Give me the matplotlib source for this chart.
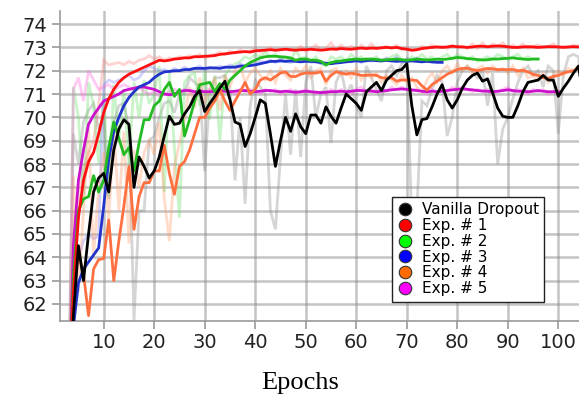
import numpy as np
import matplotlib
matplotlib.use("Agg")
import matplotlib.pyplot as plt
from matplotlib.lines import Line2D

START_EPOCH = 3

# ---- smoothed (thick) curves ----
vanilla = [57.0, 61.5, 64.5, 63.0, 65.0, 66.8, 67.4, 67.6, 66.8, 68.6,
           69.5, 69.9, 69.7, 67.0, 68.3, 67.9, 67.4, 67.7, 68.3, 69.2,
           70.05, 69.7, 69.75, 70.15, 70.45, 70.9, 71.15, 70.25, 70.6, 70.9,
           71.25, 71.55, 70.75, 69.8, 69.7, 68.75, 69.3, 70.0, 70.75, 70.6,
           69.3, 67.9, 69.0, 70.0, 69.4, 70.15, 69.6, 69.3, 70.1, 70.1,
           69.75, 70.45, 70.05, 69.75, 70.4, 71.0, 70.8, 70.6, 70.3, 71.1,
           71.3, 71.5, 71.15, 71.6, 71.8, 72.0, 72.05, 72.3, 70.5, 69.25,
           69.9, 69.95, 70.45, 71.0, 71.4, 70.75, 70.4, 70.75, 71.25, 71.6,
           71.8, 71.9, 71.55, 71.65, 71.05, 70.4, 70.05, 70.0, 70.0, 70.5,
           71.1, 71.5, 71.55, 71.6, 71.8, 71.6, 71.6, 70.9, 71.25, 71.55,
           71.9, 72.2, 70.8]
exp1 = [58.0, 62.5, 65.7, 67.3, 68.1, 68.5, 69.3, 70.2, 70.8, 71.2,
        71.5, 71.7, 71.85, 71.95, 72.05, 72.15, 72.25, 72.35, 72.45, 72.42,
        72.45, 72.5, 72.52, 72.55, 72.55, 72.6, 72.6, 72.62, 72.63, 72.65,
        72.7, 72.72, 72.75, 72.78, 72.8, 72.82, 72.8, 72.85, 72.87, 72.88,
        72.9, 72.88, 72.9, 72.92, 72.9, 72.88, 72.9, 72.9, 72.92, 72.9,
        72.88, 72.9, 72.93, 72.92, 72.95, 72.93, 72.92, 72.95, 72.97, 72.95,
        72.97, 72.96, 72.98, 73.0, 72.98, 73.0, 72.95, 72.92, 72.88, 72.9,
        72.95, 72.98, 73.0, 73.02, 73.0, 73.02, 73.05, 73.03, 73.02, 73.0,
        73.02, 73.05, 73.05, 73.03, 73.05, 73.06, 73.05, 73.03, 73.0, 73.0,
        73.02, 73.03, 73.02, 73.0, 73.02, 73.03, 73.03, 73.02, 73.0, 73.02,
        73.03, 73.02, 73.02]
exp2 = [57.0, 63.2, 66.0, 66.5, 66.6, 67.5, 66.8, 67.3, 68.7, 69.8,
        69.1, 68.4, 68.7, 67.7, 68.9, 69.9, 69.9, 70.5, 70.7, 71.2,
        71.5, 70.9, 71.2, 69.2, 69.9, 70.7, 71.4, 71.45, 71.5, 71.1,
        71.45, 71.2, 71.6, 71.8, 72.0, 72.2, 72.35, 72.45, 72.55, 72.6,
        72.62, 72.62, 72.6, 72.58, 72.55, 72.45, 72.5, 72.5, 72.45, 72.45,
        72.4, 72.25, 72.35, 72.4, 72.42, 72.45, 72.48, 72.5, 72.48, 72.5,
        72.5, 72.48, 72.45, 72.47, 72.48, 72.5, 72.47, 72.45, 72.47, 72.5,
        72.48, 72.46, 72.47, 72.5, 72.48, 72.5, 72.53, 72.57, 72.55, 72.52,
        72.5, 72.48, 72.46, 72.47, 72.5, 72.5, 72.52, 72.53, 72.55, 72.52,
        72.5, 72.48, 72.5, 72.5]
exp3 = [57.0, 61.0, 62.9, 63.5, 63.8, 64.1, 64.4, 66.2, 68.2, 69.4,
        70.0, 70.5, 70.85, 71.1, 71.3, 71.4, 71.5, 71.7, 71.85, 71.95,
        71.97, 72.0, 72.0, 72.05, 72.05, 72.1, 72.1, 72.1, 72.12, 72.12,
        72.1, 72.15, 72.15, 72.15, 72.2, 72.2, 72.22, 72.25, 72.3, 72.35,
        72.4, 72.4, 72.42, 72.4, 72.42, 72.4, 72.38, 72.4, 72.4, 72.38,
        72.35, 72.32, 72.3, 72.33, 72.35, 72.38, 72.4, 72.42, 72.4, 72.43,
        72.45, 72.43, 72.42, 72.44, 72.42, 72.4, 72.42, 72.4, 72.42, 72.4,
        72.38, 72.4, 72.38, 72.36, 72.36]
exp4 = [57.0, 62.3, 64.2, 63.3, 61.5, 63.5, 63.9, 63.95, 65.6, 63.0,
        64.7, 66.2, 67.9, 65.2, 66.6, 67.2, 67.2, 67.7, 67.7, 68.8,
        67.6, 66.7, 67.9, 68.1, 68.6, 69.3, 70.0, 70.0, 70.4, 70.7,
        71.2, 70.7, 70.3, 70.7, 71.1, 71.5, 71.0, 71.2, 71.6, 71.7,
        71.6, 71.75, 71.9, 71.95, 71.75, 71.75, 71.85, 71.9, 71.9, 71.9,
        71.95, 71.55, 71.8, 71.95, 71.9, 71.85, 71.9, 71.85, 71.8, 71.8,
        71.82, 71.8, 71.7, 71.68, 71.7, 71.55, 71.6, 71.6, 71.6, 71.58,
        71.35, 71.17, 71.4, 71.55, 71.7, 71.85, 71.95, 72.05, 72.1, 72.1,
        72.05, 72.0, 72.05, 72.1, 72.08, 72.05, 72.05, 72.05, 72.05, 72.0,
        72.02, 71.95, 71.85, 71.8, 71.7, 71.68, 71.75, 71.8, 71.9, 71.95,
        72.0, 72.1, 72.15]
exp5 = [57.0, 64.5, 67.3, 68.6, 69.7, 70.1, 70.4, 70.7, 70.8, 70.9,
        71.0, 71.15, 71.2, 71.25, 71.3, 71.3, 71.25, 71.2, 71.1, 71.0,
        70.97, 71.0, 71.1, 71.15, 71.15, 71.1, 71.12, 71.1, 71.1, 71.12,
        71.15, 71.12, 71.1, 71.12, 71.15, 71.15, 71.12, 71.1, 71.12, 71.15,
        71.15, 71.12, 71.1, 71.12, 71.1, 71.08, 71.1, 71.12, 71.1, 71.08,
        71.06, 71.08, 71.1, 71.1, 71.12, 71.1, 71.12, 71.15, 71.15, 71.13,
        71.12, 71.1, 71.12, 71.15, 71.18, 71.2, 71.22, 71.2, 71.18, 71.15,
        71.12, 71.1, 71.12, 71.1, 71.12, 71.15, 71.18, 71.2, 71.22, 71.2,
        71.18, 71.15, 71.13, 71.12, 71.1, 71.12, 71.15, 71.18, 71.15, 71.12,
        71.12, 71.1, 71.12, 71.15, 71.12, 71.1, 71.1, 71.1]

# ---- raw (faint) curves ----
vanilla_raw = [57.0, 69.3, 68.0, 69.8, 70.3, 70.6, 69.5, 70.0, 66.5, 69.8,
               70.5, 70.6, 69.5, 61.3, 66.0, 66.0, 69.0, 69.2, 70.0, 70.6,
               70.7, 70.2, 71.0, 71.0, 71.7, 71.5, 71.3, 67.7, 71.0, 71.7,
               71.7, 71.8, 71.2, 67.3, 70.0, 66.3, 70.5, 71.6, 71.3, 71.0,
               66.0, 65.2, 68.3, 71.0, 68.4, 71.2, 68.3, 71.5, 72.2, 70.0,
               71.0, 71.3, 68.9, 71.5, 72.0, 71.0, 71.4, 70.5, 70.0, 72.2,
               71.7, 71.2, 70.7, 72.0, 72.2, 71.8, 72.3, 72.5, 65.4, 66.0,
               70.7, 70.5, 71.2, 71.8, 71.5, 69.2, 70.0, 71.5, 72.0, 72.2,
               72.0, 71.7, 72.0, 70.5, 71.9, 68.0, 69.5, 70.0, 70.8, 71.5,
               72.0, 72.2, 71.8, 72.0, 71.3, 72.2, 72.0, 69.3, 71.8, 72.6,
               72.7, 72.6, 70.0]
exp1_raw = [57.0, 63.0, 66.5, 67.8, 68.5, 69.0, 70.5, 72.45, 72.25, 72.3,
            72.35, 72.25, 72.4, 72.3, 72.45, 72.5, 72.65, 72.5, 72.6, 72.45,
            72.55, 72.5, 72.6, 72.55, 72.65, 72.6, 72.7, 72.55, 72.65, 72.7,
            72.8, 72.7, 72.85, 72.75, 72.9, 72.8, 72.85, 72.95, 72.8, 72.9,
            73.0, 72.85, 72.9, 72.95, 72.85, 72.9, 73.05, 72.85, 72.95, 73.1,
            72.9, 72.95, 73.2, 72.9, 73.1, 72.95, 73.05, 72.9, 73.1, 72.95,
            73.15, 72.95, 73.0, 73.05, 72.95, 73.1, 72.9, 73.0, 72.85, 72.9,
            73.05, 72.95, 73.1, 73.0, 73.05, 72.95, 73.1, 73.0, 73.05, 72.95,
            73.15, 72.95, 73.2, 73.0, 73.15, 73.05, 73.2, 72.95, 73.1, 73.0,
            73.15, 72.95, 73.05, 73.1, 73.0, 73.05, 73.15, 73.0, 73.05, 73.0,
            73.1, 73.05, 73.0]
exp2_raw = [57.0, 71.3, 70.0, 66.5, 71.5, 70.5, 68.0, 71.0, 66.6, 71.4,
            69.0, 71.2, 68.0, 71.5, 70.0, 71.6, 70.6, 71.0, 72.2, 66.8,
            71.9, 68.7, 65.7, 71.5, 71.8, 71.9, 70.5, 72.0, 69.9, 71.8,
            69.0, 71.8, 72.1, 72.3, 72.4, 72.6, 72.5, 72.7, 72.6, 72.8,
            72.6, 72.7, 72.5, 72.6, 72.4, 72.9, 72.5, 72.6, 72.4, 72.6,
            72.3, 72.2, 72.6, 72.5, 72.6, 72.4, 72.7, 72.5, 72.6, 72.4,
            72.5, 72.6, 72.4, 72.5, 72.6, 72.7, 72.5, 72.4, 72.6, 72.5,
            72.7, 72.5, 72.6, 72.4, 72.6, 72.7, 72.5, 72.7, 72.6, 72.5,
            72.6, 72.4, 72.5, 72.6, 72.5, 72.7, 72.6, 72.5, 72.6, 72.7,
            72.5, 72.6, 72.5, 72.5]
exp3_raw = [57.0, 62.0, 64.0, 64.7, 65.0, 64.8, 64.9, 71.4, 71.6, 71.5,
            71.6, 71.7, 71.8, 71.6, 71.7, 72.0, 72.2, 72.1, 72.0, 72.05,
            71.95, 72.1, 72.0, 72.15, 72.05, 72.1, 72.2, 72.05, 72.15, 72.1,
            72.2, 72.1, 72.25, 72.15, 72.3, 72.2, 72.35, 72.3, 72.4, 72.35,
            72.45, 72.35, 72.5, 72.4, 72.35, 72.45, 72.4, 72.5, 72.35, 72.4,
            72.3, 72.25, 72.3, 72.4, 72.35, 72.45, 72.4, 72.5, 72.35, 72.45,
            72.4, 72.5, 72.45, 72.55, 72.4, 72.6, 72.35, 72.5, 72.45, 72.55,
            72.4, 72.45, 72.35, 72.4, 72.35]
exp4_raw = [57.0, 67.5, 62.5, 66.0, 69.5, 64.0, 67.0, 68.5, 65.6, 69.5,
            66.0, 69.4, 64.6, 68.6, 67.0, 68.5, 69.0, 68.4, 69.8, 66.5,
            64.7, 67.9, 68.9, 69.9, 71.3, 70.4, 71.7, 70.6, 71.2, 71.7,
            70.3, 71.8, 71.3, 72.0, 72.2, 71.5, 71.9, 72.1, 71.8, 71.6,
            72.0, 71.5, 72.1, 71.8, 71.6, 72.1, 71.9, 72.2, 71.7, 72.0,
            72.1, 71.4, 72.0, 72.1, 71.8, 72.0, 71.7, 72.1, 71.6, 71.9,
            71.7, 71.9, 71.5, 71.8, 71.6, 71.4, 71.8, 71.5, 71.7, 71.3,
            71.1, 71.6, 71.9, 71.5, 72.0, 72.2, 71.9, 72.3, 72.0, 72.2,
            71.9, 72.1, 72.2, 71.9, 72.2, 72.0, 72.1, 71.9, 72.2, 71.8,
            72.1, 71.7, 71.8, 71.6, 71.9, 71.5, 71.8, 72.0, 71.8, 72.1,
            72.0, 72.2, 72.0]
exp5_raw = [57.0, 71.2, 71.7, 70.7, 72.0, 71.6, 71.2, 71.3, 71.4, 71.2,
            71.3, 71.4, 71.3, 71.2, 71.3, 71.1, 71.0, 71.1, 70.9, 71.0,
            71.1, 71.2, 71.1, 71.2, 71.1, 71.0, 71.2, 71.1, 71.2, 71.0,
            71.1, 71.2, 71.1, 71.0, 71.2, 71.1, 71.2, 71.1, 71.0, 71.2,
            71.1, 71.2, 71.0, 71.1, 71.2, 71.0, 71.1, 71.2, 71.1, 71.0,
            71.1, 71.0, 71.2, 71.1, 71.2, 71.1, 71.0, 71.2, 71.3, 71.1,
            71.2, 71.1, 71.2, 71.1, 71.3, 71.2, 71.3, 71.2, 71.1, 71.2,
            71.1, 71.0, 71.2, 71.1, 71.2, 71.1, 71.3, 71.2, 71.3, 71.2,
            71.1, 71.2, 71.1, 71.2, 71.0, 71.1, 71.2, 71.3, 71.1, 71.2,
            71.1, 71.0, 71.2, 71.1, 71.2, 71.0, 71.1, 71.0]

labels = ["Vanilla Dropout", "Exp. # 1", "Exp. # 2", "Exp. # 3", "Exp. # 4", "Exp. # 5"]
yticks = [62, 63, 64, 65, 66, 67, 68, 69, 70, 71, 72, 73, 74]
xticks = [10, 20, 30, 40, 50, 60, 70, 80, 90, 100]

thick_colors = ["#000000", "#ff1010", "#22bb22", "#2233cc", "#ff7040", "#cc11cc"]
faint_colors = ["#888888", "#ff8080", "#66dd66", "#8080ff", "#ff9966", "#ff66dd"]
legend_colors = ["#000000", "#ff0000", "#00ff00", "#0000ff", "#ff6a00", "#ff00ff"]

smooth = [vanilla, exp1, exp2, exp3, exp4, exp5]
raw = [vanilla_raw, exp1_raw, exp2_raw, exp3_raw, exp4_raw, exp5_raw]

fig = plt.figure(figsize=(5.79, 4.0), dpi=100)
ax = fig.add_axes([60 / 579, 1 - 321 / 400, 1 - 60 / 579, 310 / 400])

for r, c in zip(raw, faint_colors):
    ep = np.arange(START_EPOCH, START_EPOCH + len(r))
    ax.plot(ep, r, color=c, lw=2.0, alpha=0.35, zorder=2, solid_joinstyle="miter")

order = [5, 4, 3, 2, 1, 0]
for i in order:
    s = smooth[i]
    ep = np.arange(START_EPOCH, START_EPOCH + len(s))
    ax.plot(ep, s, color=thick_colors[i], lw=2.0, zorder=3 + (5 - i))

ax.set_xlim(1.35, 104.1)
ax.set_ylim(61.27, 74.56)
ax.set_xticks(xticks)
ax.set_yticks(yticks)
ax.grid(True, color="#888888", alpha=0.5, lw=1.8, zorder=1)
ax.set_axisbelow(True)
for sp in ["top", "right"]:
    ax.spines[sp].set_visible(False)
for sp in ["left", "bottom"]:
    ax.spines[sp].set_color("#999999")
    ax.spines[sp].set_linewidth(1.2)
ax.tick_params(axis="both", direction="out", length=6, width=1.2, color="#999999",
               labelsize=14, labelcolor="#222222", pad=3)

ax.set_xlabel("Epochs", family=["Liberation Serif", "DejaVu Serif"], fontsize=19,
              labelpad=8)
ax.xaxis.set_label_coords((300 - 60) / 519, -0.165)

handles = [Line2D([], [], ls="none", marker="o", markersize=9, markerfacecolor=c,
                  markeredgecolor="#333333", markeredgewidth=0.8) for c in legend_colors]
leg = ax.legend(handles, labels, loc="upper left", bbox_to_anchor=(0.640, 0.40),
                fontsize=11, frameon=True, fancybox=False, framealpha=1,
                edgecolor="#222222", labelspacing=0.05, handlelength=1.0,
                handletextpad=0.6, borderpad=0.35, borderaxespad=0)
leg.get_frame().set_linewidth(1.0)
leg.set_zorder(20)

fig.savefig("out.png", dpi=100)
